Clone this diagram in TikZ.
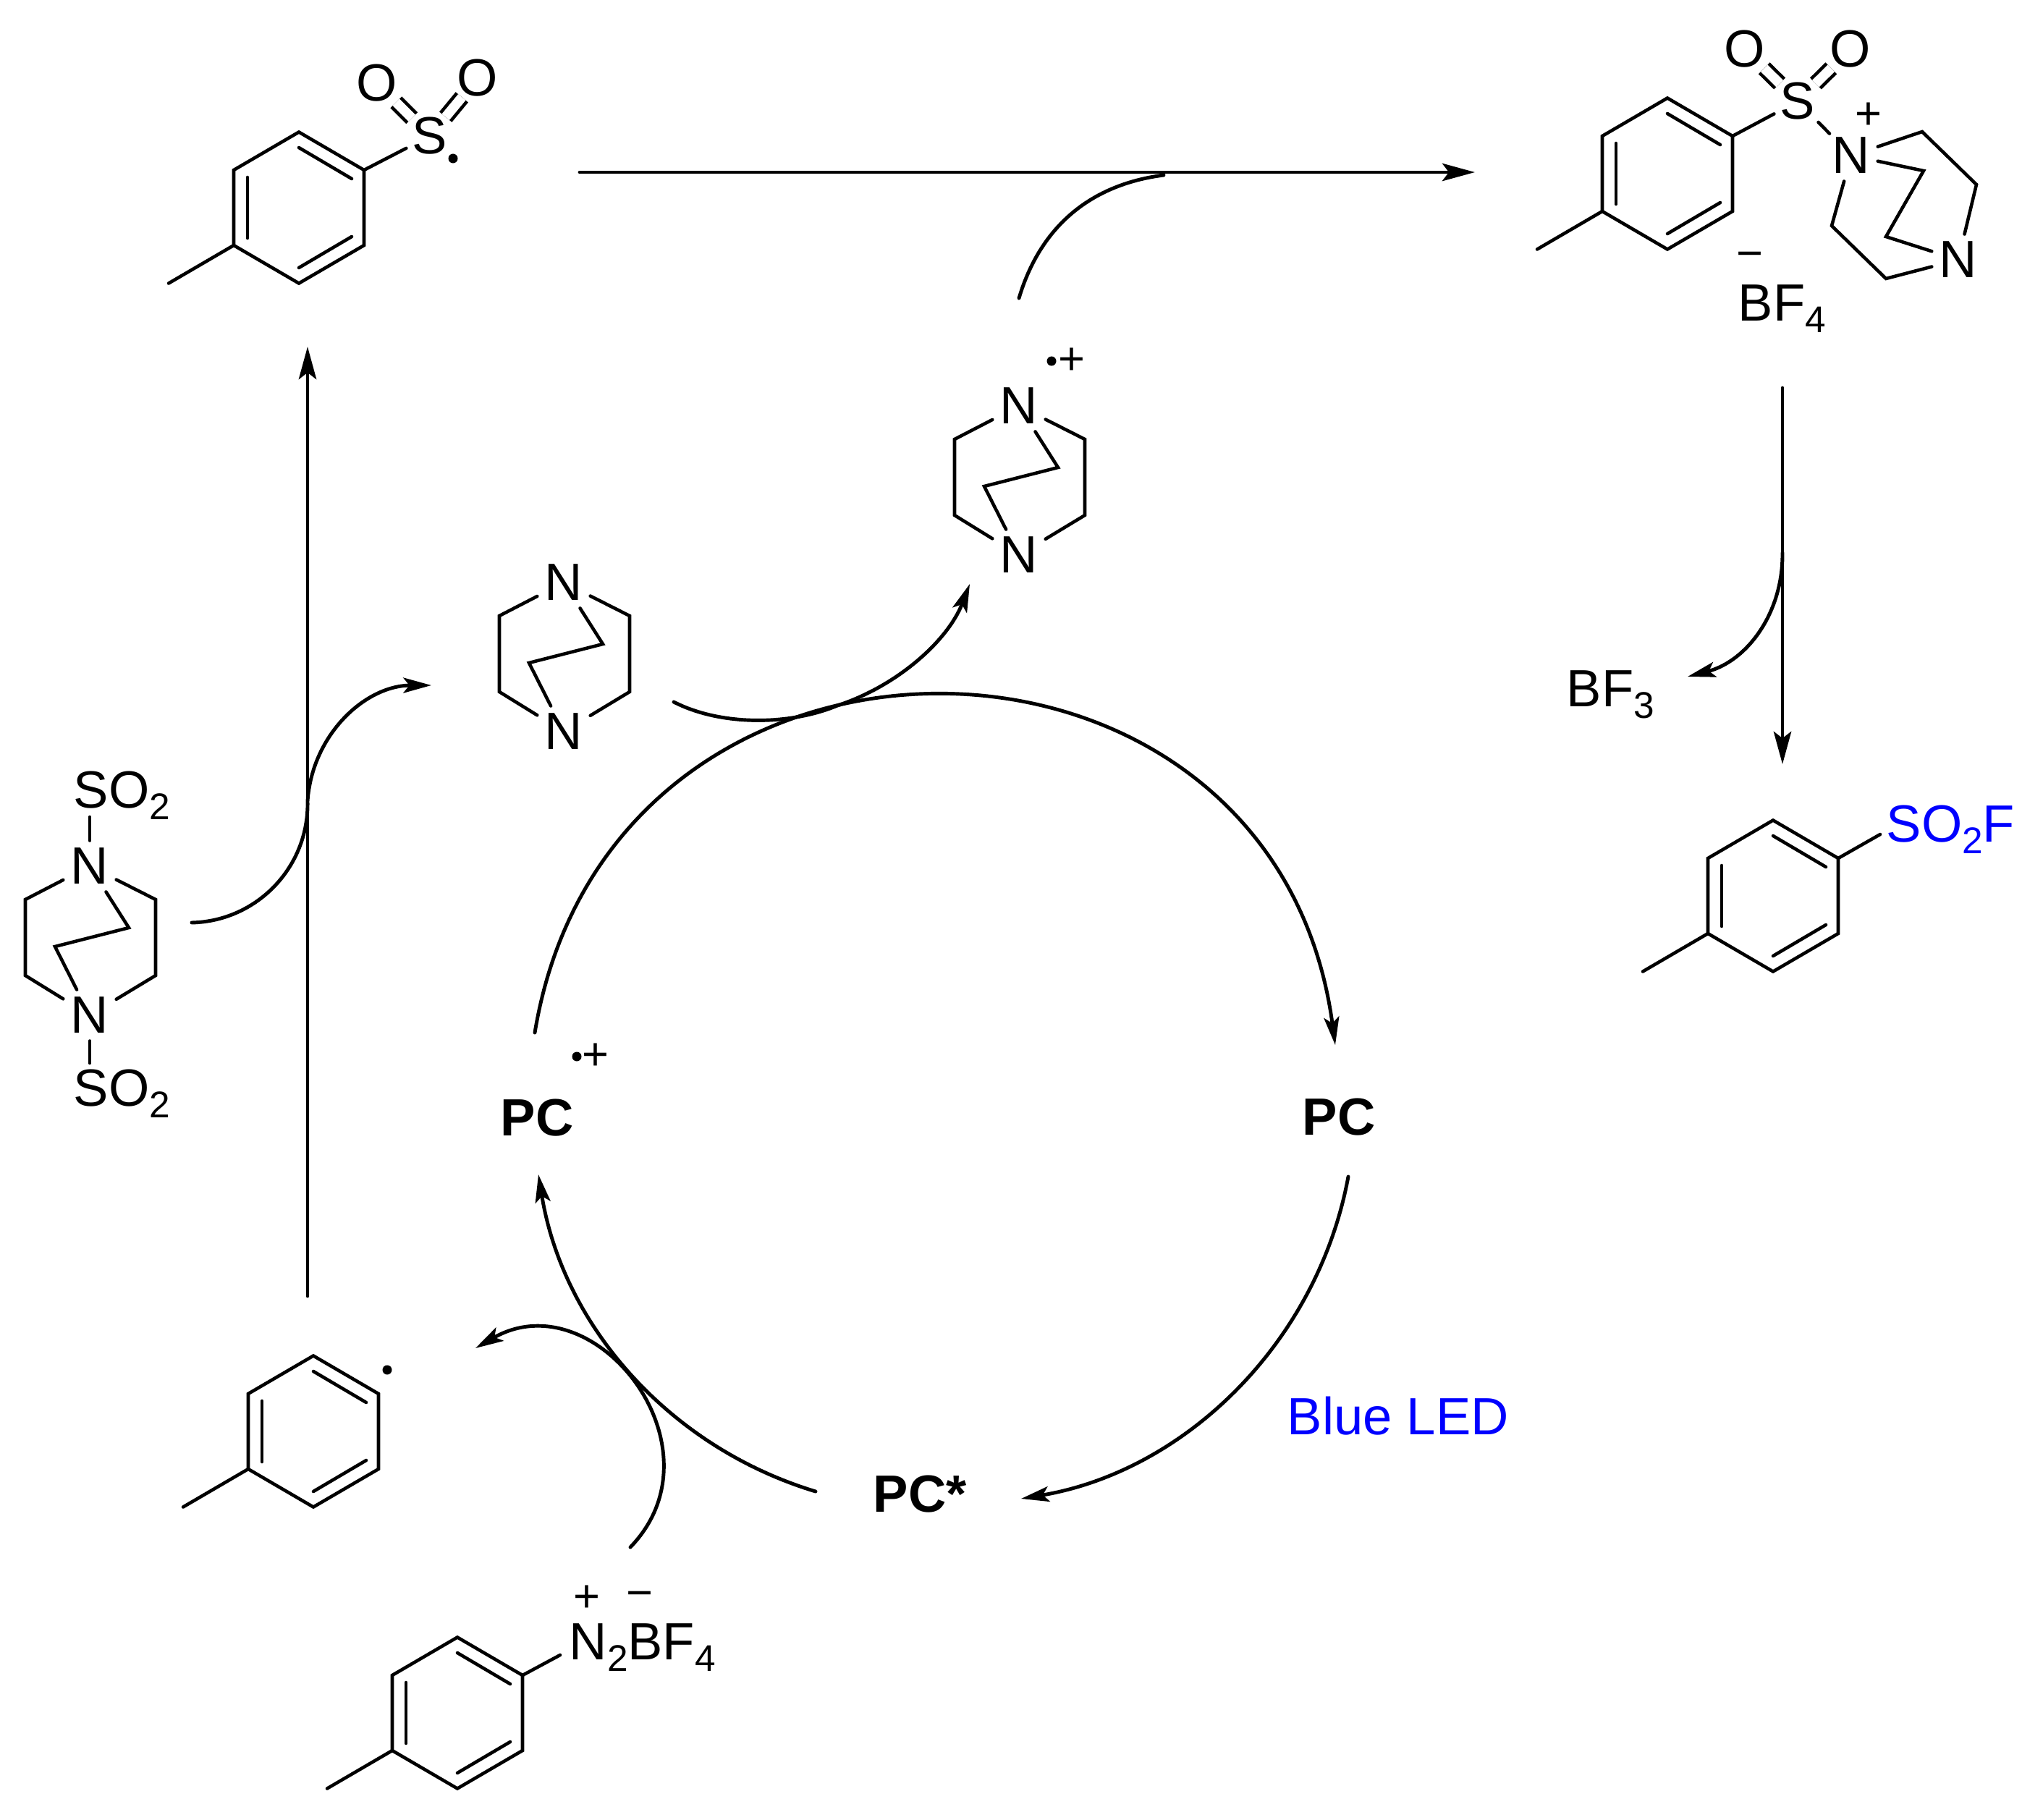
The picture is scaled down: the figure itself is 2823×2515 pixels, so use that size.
\documentclass[tikz,border=0pt]{standalone}
\usepackage{fontspec}
\setmainfont{Liberation Sans}
\usetikzlibrary{arrows.meta,positioning}

\newcommand{\subs}[1]{\raisebox{-0.16cm}{\fontsize{14.6}{15}\selectfont #1}}

\tikzset{
	bond/.style={line width=1.3pt,line cap=round,line join=miter},
	dbond/.style={line width=1.3pt,double,double distance=3.8pt},
	curved/.style={line width=1.4pt,line cap=round},
	rxn/.style={curved,-{Stealth[length=12.8pt,width=6.9pt,inset=2.6pt]}},
	bentrxn/.style={curved,-{Stealth[length=11pt,width=6pt,inset=2.4pt]}},
	atom/.style={inner sep=2.8pt,font=\fontsize{20.6}{24}\selectfont},
	tightatom/.style={atom,inner sep=0pt},
	label/.style={anchor=base west,inner sep=0pt,font=\fontsize{20.6}{24}\selectfont},
	pclabel/.style={label,font=\fontsize{20.6}{24}\selectfont\bfseries},
	charge/.style={inner sep=0pt,font=\fontsize{18}{20}\selectfont},
	radical/.style={circle,fill,inner sep=0pt,minimum size=0.13cm},
	tolyl/.pic={
		\foreach \n/\x/\y in {t/0/-104.5,r1/90/-52,r2/90/52,b/0/104.5,l2/-90/52,l1/-90/-52,m/-180/104.5,
			ia/-71/-42,ib/-71/42,ic/0/-83,id/73/-40,ie/73/40,if/0/83}
			\coordinate (-\n) at (\x,\y);
		\draw[bond] (-t) -- (-r1) -- (-r2) -- (-b) -- (-l2) -- (-l1) -- cycle;
		\draw[bond] (-l2) -- (-m);
		\draw[bond] (-ia) -- (-ib);
		\draw[bond] (-ic) -- (-id);
		\draw[bond] (-ie) -- (-if);
	},
	dabco/.pic={
		\node[atom] (-n1) at (0,0) {N};
		\node[atom] (-n2) at (0,206) {N};
		\foreach \n/\x/\y in {a/-89/46,b/-89/151,c/91/46,d/91/151,e/54/85,f/-48/111}
			\coordinate (-\n) at (\x,\y);
		\draw[bond] (-n1) -- (-a) -- (-b) -- (-n2);
		\draw[bond] (-n1) -- (-c) -- (-d) -- (-n2);
		\draw[bond] (-n1) -- (-e) -- (-f) -- (-n2);
	}
}

\begin{document}
\begin{tikzpicture}[x=0.01cm,y=-0.01cm]
	\useasboundingbox (0,0) rectangle (2823,2515);

	% sulfonyl radical
	\pic (ts) at (413,287) {tolyl};
	\node[tightatom] (tsS) at (594,188) {S};
	\node[tightatom] (tsOa) at (521,115) {O};
	\node[tightatom] (tsOb) at (660,108) {O};
	\node[radical] (tsdot) at (626,219) {};
	\draw[bond,shorten >=2.5pt] (ts-r1) -- (tsS);
	\draw[dbond] (tsS) -- (tsOa);
	\draw[dbond] (tsS) -- (tsOb);

	% sulfonyl ammonium salt
	\pic (ta) at (2304,240) {tolyl};
	\node[tightatom] (taS) at (2484,140) {S};
	\node[tightatom] (taOa) at (2411,68) {O};
	\node[tightatom] (taOb) at (2557,68) {O};
	\node[atom] (taNa) at (2558,215) {N};
	\node[atom] (taNb) at (2706,359) {N};
	\node[charge] (taplus) at (2582,160) {+};
	\node[charge] (taminus) at (2418,360) {−};
	\node[label] (taBF) at (2401,443) {BF\subs{4}};
	\foreach \n/\x/\y in {a/2656/182,b/2731/255,c/2658/236,d/2606/327,e/2531/312,f/2606/385}
		\coordinate (ta\n) at (\x,\y);
	\draw[bond,shorten >=2.5pt] (ta-r1) -- (taS);
	\draw[dbond] (taS) -- (taOa);
	\draw[dbond] (taS) -- (taOb);
	\draw[bond,shorten <=1.5pt,shorten >=-2pt] (taS) -- (taNa);
	\draw[bond] (taNa) -- (taa) -- (tab) -- (taNb);
	\draw[bond] (taNa) -- (tac) -- (tad) -- (taNb);
	\draw[bond] (taNa) -- (tae) -- (taf) -- (taNb);

	% sulfonyl fluoride
	\pic (sf) at (2450,1238) {tolyl};
	\coordinate (sfend) at (2598,1153);
	\node[label,blue] (sfF) at (2606,1163) {SO\subs{2}F};
	\draw[bond] (sf-r1) -- (sfend);

	% aryl radical
	\pic (ar) at (433,1978) {tolyl};
	\node[radical] (ardot) at (535,1893) {};

	% diazonium salt
	\pic (dz) at (632,2367) {tolyl};
	\coordinate (dzend) at (774,2287);
	\node[label] (dzN) at (786,2293) {N\subs{2}BF\subs{4}};
	\node[charge] (dzplus) at (811,2209) {+};
	\node[charge] (dzminus) at (884,2211) {−};
	\draw[bond] (dz-r1) -- (dzend);

	% bis-sulfonyl dabco
	\pic (bs) at (124,1197) {dabco};
	\node[label] (bsa) at (101,1116) {SO\subs{2}};
	\node[label] (bsb) at (101,1528) {SO\subs{2}};
	\coordinate (bsatop) at (124,1129);
	\coordinate (bsbbot) at (124,1469);
	\draw[bond] (bs-n1) -- (bsatop);
	\draw[bond] (bs-n2) -- (bsbbot);

	% free dabco and its radical cation
	\pic (da) at (779,805) {dabco};
	\pic (dr) at (1408,561) {dabco};
	\node[radical] (drdot) at (1453,499) {};
	\node[charge] (drplus) at (1481,499) {+};

	% photocatalyst
	\node[pclabel] (pcr) at (691,1569) {PC};
	\node[radical] (pcrdot) at (797,1460) {};
	\node[charge] (pcrplus) at (823,1460) {+};
	\node[pclabel] (pc) at (1799,1568) {PC};
	\node[pclabel] (pcs) at (1206,2089) {PC*};
	\node[label,blue] (led) at (1778,1982) {Blue LED};
	\node[label] (bft) at (2164,976) {BF\subs{3}};

	% arrow end points
	\foreach \n/\x/\y in {ha/801/238,hb/2038/238,hc/1408/412,hd/1608/242,
		va/425/1791,vb/425/479,vc/265/1275,vd/425/1107,ve/596/947,
		da/2463/536,db/2463/1056,dc/2463/764,dd/2332/935,
		ua/931/970,ub/1157/975,uc/1340/807,
		ca/739/1427,cb/1845/1444,cc/1863/1626,cd/1411/2071,ce/1127/2061,cf/744/1623,
		ba/871/2138,bb/657/1863}
		\coordinate (\n) at (\x,\y);

	\draw[rxn] (ha) -- (hb);
	\draw[curved] (hc) to[bend left=33] (hd);
	\draw[rxn] (va) -- (vb);
	\draw[bentrxn] (vc) to[bend right=45] (vd) to[bend left=43] (ve);
	\draw[rxn] (da) -- (db);
	\draw[bentrxn] (dc) to[bend left=38] (dd);
	\draw[bentrxn] (ua) .. controls (995,1003) and (1090,1003) .. (ub) .. controls (1240,948) and (1310,885) .. (uc);
	\draw[bentrxn] (ca) to[bend left=81.5,looseness=1.475] (cb);
	\draw[bentrxn] (cc) to[bend left=35,looseness=0.935] (cd);
	\draw[bentrxn] (ce) to[bend left=32,looseness=0.93] (cf);
	\draw[bentrxn] (ba) to[bend right=82,looseness=1.4] (bb);
\end{tikzpicture}
\end{document}
